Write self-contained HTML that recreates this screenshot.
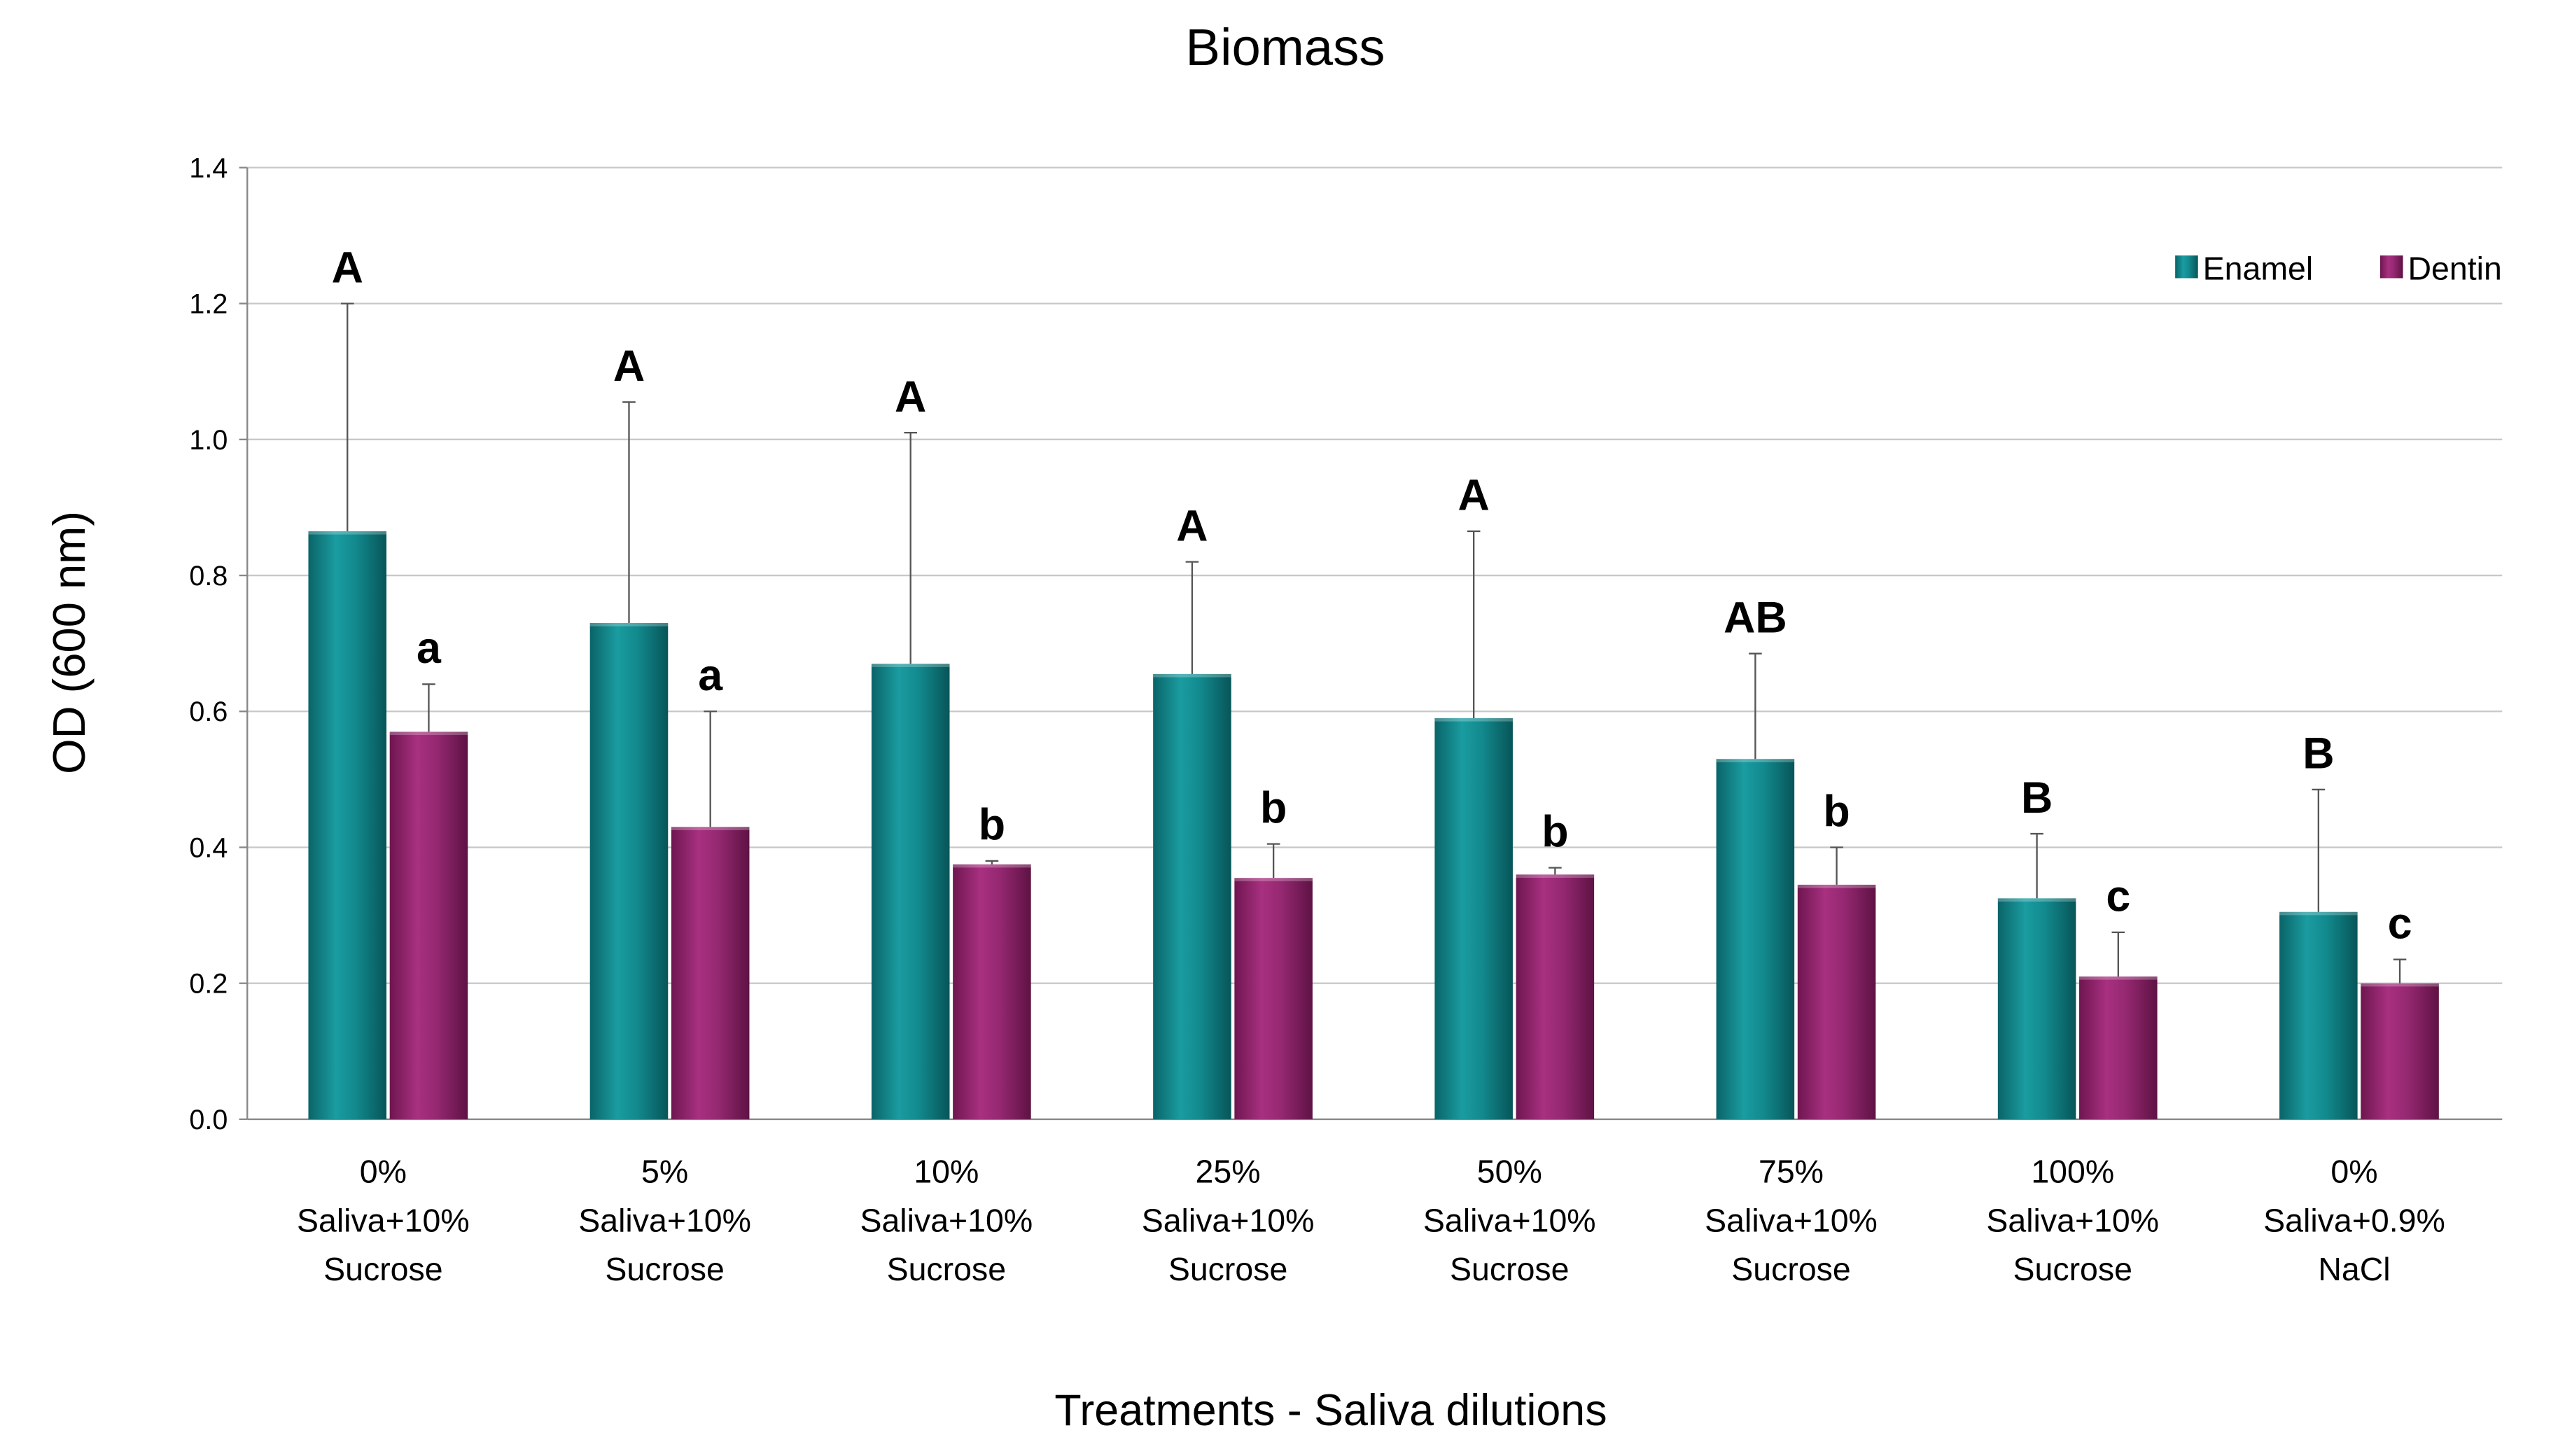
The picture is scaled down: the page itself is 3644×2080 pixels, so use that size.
<!DOCTYPE html>
<html><head><meta charset="utf-8"><style>
html,body{margin:0;padding:0;background:#fff;}
svg{display:block;font-family:"Liberation Sans","DejaVu Sans",sans-serif;}
</style></head><body>
<svg id="chart" width="3644" height="2080" viewBox="0 0 1568 895" xmlns="http://www.w3.org/2000/svg">
<defs>
<linearGradient id="gE" x1="0" x2="1" y1="0" y2="0">
<stop offset="0" stop-color="#0a6468"/><stop offset="0.35" stop-color="#1a9ca0"/><stop offset="0.6" stop-color="#128a8e"/><stop offset="1" stop-color="#075558"/>
</linearGradient>
<linearGradient id="gD" x1="0" x2="1" y1="0" y2="0">
<stop offset="0" stop-color="#6e1650"/><stop offset="0.35" stop-color="#a83080"/><stop offset="0.6" stop-color="#952871"/><stop offset="1" stop-color="#5e1244"/>
</linearGradient>
</defs>
<text x="790" y="40" font-size="32" text-anchor="middle" fill="#000">Biomass</text>
<g id="grid"></g>
<g id="bars"></g>
<text transform="translate(52,395) rotate(-90)" font-size="28" text-anchor="middle" fill="#000">OD (600 nm)</text>
<text x="818" y="876" font-size="27" text-anchor="middle" fill="#000">Treatments - Saliva dilutions</text>
<g>
<rect x="1337" y="157" width="14" height="14" fill="url(#gE)"/>
<text x="1354" y="172" font-size="20" fill="#000">Enamel</text>
<rect x="1463" y="157" width="14" height="14" fill="url(#gD)"/>
<text x="1480" y="172" font-size="20" fill="#000">Dentin</text>
</g>
</svg>
<script>
const categories = [["0%","Saliva+10%","Sucrose"],["5%","Saliva+10%","Sucrose"],["10%","Saliva+10%","Sucrose"],["25%","Saliva+10%","Sucrose"],["50%","Saliva+10%","Sucrose"],["75%","Saliva+10%","Sucrose"],["100%","Saliva+10%","Sucrose"],["0%","Saliva+0.9%","NaCl"]];
const enamel = [0.865,0.73,0.67,0.655,0.59,0.53,0.325,0.305];
const enamelErrTop = [1.2,1.055,1.01,0.82,0.865,0.685,0.42,0.485];
const enamelLetters = ["A","A","A","A","A","AB","B","B"];
const dentin = [0.57,0.43,0.375,0.355,0.36,0.345,0.21,0.2];
const dentinErrTop = [0.64,0.6,0.38,0.405,0.37,0.4,0.275,0.235];
const dentinLetters = ["a","a","b","b","b","b","c","c"];
const yTicks = [0,0.2,0.4,0.6,0.8,1.0,1.2,1.4];

const NS="http://www.w3.org/2000/svg";
const X0=152,X1=1538,Y0=688,Ytop=103,YMAX=1.4;
const y=v=>Y0-(v/YMAX)*(Y0-Ytop);
const gw=(X1-X0)/categories.length*0.999;
const gx=i=>X0+gw*(i+0.5)-0.5*0+ -0; 
function mk(tag,attrs,parent){const e=document.createElementNS(NS,tag);for(const k in attrs)e.setAttribute(k,attrs[k]);parent.appendChild(e);return e;}
const grid=document.getElementById('grid'), bars=document.getElementById('bars');
yTicks.forEach(t=>{
  const l=mk('line',{x1:X0,x2:X1,y1:y(t),y2:y(t),stroke:t===0?'#888':'#c8c8c8','stroke-width':1},grid);
  
  
  const tx=mk('text',{x:X0-12,y:y(t)+6,'font-size':17,'text-anchor':'end',fill:'#000'},grid);
  tx.textContent=t.toFixed(1);
  
  
  const tk=mk('line',{x1:X0-5,x2:X0,y1:y(t),y2:y(t),stroke:'#888'},grid);
  
  
});
const ax=mk('line',{x1:X0,x2:X0,y1:Ytop,y2:Y0,stroke:'#888'},grid);


const BW=48;
function bar(cx,v,top,letter,grad,name,lsize){
  const r=mk('rect',{x:cx-BW/2,y:y(v),width:BW,height:Y0-y(v),fill:grad},bars);
  
  
  const cap=mk('rect',{x:cx-BW/2,y:y(v)-2,width:BW,height:4,fill:'#ffffff','fill-opacity':0.25},bars);
  
  
  const e=mk('path',{d:`M${cx} ${y(v)}V${y(top)}M${cx-4} ${y(top)}H${cx+4}`,stroke:'#555','stroke-width':1,fill:'none'},bars);
  
  
  const t=mk('text',{x:cx,y:y(top)-13,'font-size':lsize,'font-weight':'bold','text-anchor':'middle',fill:'#000'},bars);
  t.textContent=letter;
  
  
}
categories.forEach((c,i)=>{
  const cx=X0+gw*(i+0.5);
  bar(cx-25,enamel[i],enamelErrTop[i],enamelLetters[i],'url(#gE)','bar-enamel-'+i,27);
  bar(cx+25,dentin[i],dentinErrTop[i],dentinLetters[i],'url(#gD)','bar-dentin-'+i,27);
  c.forEach((ln,j)=>{
    const t=mk('text',{x:cx-3,y:727+j*30,'font-size':20,'text-anchor':'middle',fill:'#000'},bars);
    t.textContent=ln;
    
    
  });
});
</script>
</body></html>
